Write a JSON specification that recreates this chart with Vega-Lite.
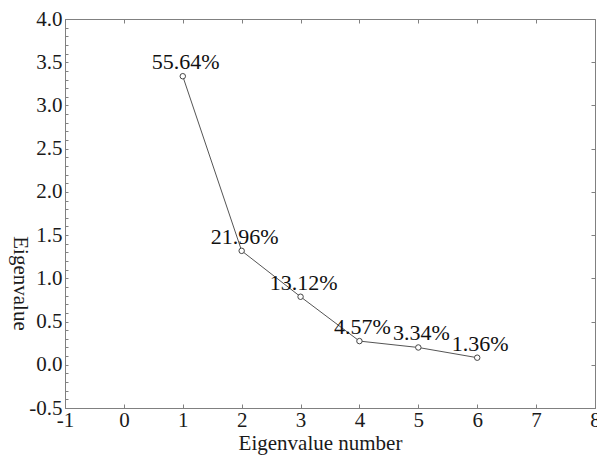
{
  "$schema": "https://vega.github.io/schema/vega-lite/v6.json",
  "width": 530,
  "height": 389,
  "autosize": {"type": "none"},
  "padding": {"left": 65, "top": 19, "right": 2, "bottom": 47},
  "background": "white",
  "config": {
    "view": {"stroke": "#808080", "strokeWidth": 1},
    "style": {"guide-label": {"font": "Liberation Serif"}, "guide-title": {"font": "Liberation Serif"}}
  },
  "data": {
    "values": [
      {"n": 1, "ev": 3.338, "label": "55.64%"},
      {"n": 2, "ev": 1.318, "label": "21.96%"},
      {"n": 3, "ev": 0.787, "label": "13.12%"},
      {"n": 4, "ev": 0.274, "label": "4.57%"},
      {"n": 5, "ev": 0.200, "label": "3.34%"},
      {"n": 6, "ev": 0.082, "label": "1.36%"}
    ]
  },
  "resolve": {"axis": {"x": "independent", "y": "independent"}},
  "layer": [
    {
      "mark": {"type": "line", "color": "#555555", "strokeWidth": 1},
      "encoding": {
        "x": {
          "field": "n", "type": "quantitative",
          "scale": {"domain": [-1, 8], "nice": false, "zero": false},
          "axis": {
            "values": [-1, 0, 1, 2, 3, 4, 5, 6, 7, 8],
            "labelExpr": "datum.value < 0 ? '-' + format(abs(datum.value), 'd') : format(datum.value, 'd')",
            "title": "Eigenvalue number",
            "grid": false,
            "domainColor": "#808080",
            "tickColor": "#808080",
            "tickSize": -4,
            "labelFont": "Liberation Serif",
            "labelFontSize": 21,
            "labelColor": "#1a1a1a",
            "labelPadding": 5,
            "labelFlush": false,
            "labelOverlap": false,
            "titleFont": "Liberation Serif",
            "titleFontSize": 21,
            "titleFontWeight": "normal",
            "titleColor": "#1a1a1a",
            "titlePadding": 2,
            "titleX": 255
          }
        },
        "y": {
          "field": "ev", "type": "quantitative",
          "scale": {"domain": [-0.5, 4], "nice": false, "zero": false},
          "axis": {
            "values": [-0.5, -0.4, -0.3, -0.2, -0.1, 0, 0.1, 0.2, 0.3, 0.4, 0.5, 0.6, 0.7, 0.8, 0.9, 1.0, 1.1, 1.2, 1.3, 1.4, 1.5, 1.6, 1.7, 1.8, 1.9, 2.0, 2.1, 2.2, 2.3, 2.4, 2.5, 2.6, 2.7, 2.8, 2.9, 3.0, 3.1, 3.2, 3.3, 3.4, 3.5, 3.6, 3.7, 3.8, 3.9, 4.0],
            "labelExpr": "abs(datum.value * 2 - round(datum.value * 2)) < 0.001 ? (datum.value < 0 ? '-' + format(abs(datum.value), '.1f') : format(datum.value, '.1f')) : ''",
            "title": "Eigenvalue",
            "grid": false,
            "domainColor": "#808080",
            "tickColor": "#808080",
            "tickSize": -3,
            "labelFont": "Liberation Serif",
            "labelFontSize": 21,
            "labelColor": "#1a1a1a",
            "labelPadding": 6,
            "labelOverlap": false,
            "labelFlush": false,
            "titleFont": "Liberation Serif",
            "titleFontSize": 21,
            "titleFontWeight": "normal",
            "titleColor": "#1a1a1a",
            "titleAngle": 90,
            "titleAlign": "center",
            "titleBaseline": "middle",
            "titleX": -46,
            "titleY": 264
          }
        }
      }
    },
    {
      "mark": {"type": "point", "shape": "circle", "filled": false, "fill": "white", "stroke": "#444444", "strokeWidth": 1, "size": 30, "opacity": 1},
      "encoding": {
        "x": {
          "field": "n", "type": "quantitative",
          "axis": {
            "orient": "top",
            "values": [-1, 0, 1, 2, 3, 4, 5, 6, 7, 8],
            "labels": false, "title": null, "grid": false,
            "domain": false,
            "tickColor": "#808080", "tickSize": -4
          }
        },
        "y": {
          "field": "ev", "type": "quantitative",
          "axis": {
            "orient": "right",
            "values": [-0.5, 0, 0.5, 1.0, 1.5, 2.0, 2.5, 3.0, 3.5, 4.0],
            "labels": false, "title": null, "grid": false,
            "domain": false,
            "tickColor": "#808080", "tickSize": -4
          }
        }
      }
    },
    {
      "mark": {"type": "text", "font": "Liberation Serif", "fontSize": 22, "color": "#111111", "align": "center", "baseline": "alphabetic", "dx": 3, "dy": -7},
      "encoding": {
        "x": {"field": "n", "type": "quantitative", "axis": null},
        "y": {"field": "ev", "type": "quantitative", "axis": null},
        "text": {"field": "label"}
      }
    }
  ]
}
